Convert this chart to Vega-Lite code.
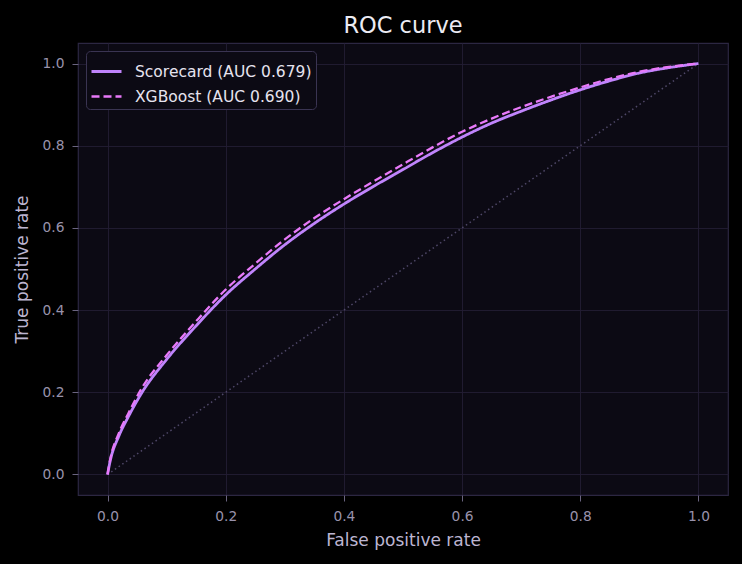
{
  "$schema": "https://vega.github.io/schema/vega-lite/v6.json",
  "width": 650,
  "height": 452,
  "autosize": "none",
  "padding": {"left": 78, "top": 43, "right": 14, "bottom": 69},
  "background": "#000000",
  "title": {"text": "ROC curve", "fontSize": 22.5, "font": "DejaVu Sans", "fontWeight": "normal", "color": "#ecebf3", "offset": 6},
  "config": {
    "view": {"fill": "#0c0a14", "stroke": "#2c2742", "strokeWidth": 1.2},
    "font": "DejaVu Sans",
    "axis": {
      "gridColor": "#221d33", "gridWidth": 0.9,
      "domain": false,
      "tickColor": "#6a6480", "tickSize": 6,
      "labelColor": "#9892ab", "labelFontSize": 13.8, "labelPadding": 8,
      "titleColor": "#bdb6d2", "titleFontSize": 17, "titleFontWeight": "normal"
    }
  },
  "datasets": {
    "roc": [
      {"model": "Scorecard (AUC 0.679)", "fpr": 0, "tpr": 0},
      {"model": "Scorecard (AUC 0.679)", "fpr": 0.005, "tpr": 0.036},
      {"model": "Scorecard (AUC 0.679)", "fpr": 0.019, "tpr": 0.093},
      {"model": "Scorecard (AUC 0.679)", "fpr": 0.035, "tpr": 0.14},
      {"model": "Scorecard (AUC 0.679)", "fpr": 0.0585, "tpr": 0.2},
      {"model": "Scorecard (AUC 0.679)", "fpr": 0.1, "tpr": 0.28},
      {"model": "Scorecard (AUC 0.679)", "fpr": 0.15, "tpr": 0.362},
      {"model": "Scorecard (AUC 0.679)", "fpr": 0.2, "tpr": 0.437},
      {"model": "Scorecard (AUC 0.679)", "fpr": 0.25, "tpr": 0.5},
      {"model": "Scorecard (AUC 0.679)", "fpr": 0.3, "tpr": 0.559},
      {"model": "Scorecard (AUC 0.679)", "fpr": 0.35, "tpr": 0.611},
      {"model": "Scorecard (AUC 0.679)", "fpr": 0.4, "tpr": 0.658},
      {"model": "Scorecard (AUC 0.679)", "fpr": 0.45, "tpr": 0.701},
      {"model": "Scorecard (AUC 0.679)", "fpr": 0.5, "tpr": 0.742},
      {"model": "Scorecard (AUC 0.679)", "fpr": 0.55, "tpr": 0.783},
      {"model": "Scorecard (AUC 0.679)", "fpr": 0.6, "tpr": 0.821},
      {"model": "Scorecard (AUC 0.679)", "fpr": 0.65, "tpr": 0.855},
      {"model": "Scorecard (AUC 0.679)", "fpr": 0.7, "tpr": 0.884},
      {"model": "Scorecard (AUC 0.679)", "fpr": 0.75, "tpr": 0.911},
      {"model": "Scorecard (AUC 0.679)", "fpr": 0.8, "tpr": 0.936},
      {"model": "Scorecard (AUC 0.679)", "fpr": 0.85, "tpr": 0.958},
      {"model": "Scorecard (AUC 0.679)", "fpr": 0.9, "tpr": 0.977},
      {"model": "Scorecard (AUC 0.679)", "fpr": 0.95, "tpr": 0.99},
      {"model": "Scorecard (AUC 0.679)", "fpr": 1, "tpr": 1},
      {"model": "XGBoost (AUC 0.690)", "fpr": 0, "tpr": 0},
      {"model": "XGBoost (AUC 0.690)", "fpr": 0.005, "tpr": 0.04},
      {"model": "XGBoost (AUC 0.690)", "fpr": 0.019, "tpr": 0.1},
      {"model": "XGBoost (AUC 0.690)", "fpr": 0.035, "tpr": 0.148},
      {"model": "XGBoost (AUC 0.690)", "fpr": 0.058, "tpr": 0.21},
      {"model": "XGBoost (AUC 0.690)", "fpr": 0.1, "tpr": 0.29},
      {"model": "XGBoost (AUC 0.690)", "fpr": 0.15, "tpr": 0.373},
      {"model": "XGBoost (AUC 0.690)", "fpr": 0.2, "tpr": 0.45},
      {"model": "XGBoost (AUC 0.690)", "fpr": 0.25, "tpr": 0.513},
      {"model": "XGBoost (AUC 0.690)", "fpr": 0.3, "tpr": 0.572},
      {"model": "XGBoost (AUC 0.690)", "fpr": 0.35, "tpr": 0.624},
      {"model": "XGBoost (AUC 0.690)", "fpr": 0.4, "tpr": 0.670},
      {"model": "XGBoost (AUC 0.690)", "fpr": 0.45, "tpr": 0.713},
      {"model": "XGBoost (AUC 0.690)", "fpr": 0.5, "tpr": 0.755},
      {"model": "XGBoost (AUC 0.690)", "fpr": 0.55, "tpr": 0.796},
      {"model": "XGBoost (AUC 0.690)", "fpr": 0.6, "tpr": 0.834},
      {"model": "XGBoost (AUC 0.690)", "fpr": 0.65, "tpr": 0.866},
      {"model": "XGBoost (AUC 0.690)", "fpr": 0.7, "tpr": 0.894},
      {"model": "XGBoost (AUC 0.690)", "fpr": 0.75, "tpr": 0.919},
      {"model": "XGBoost (AUC 0.690)", "fpr": 0.8, "tpr": 0.942},
      {"model": "XGBoost (AUC 0.690)", "fpr": 0.85, "tpr": 0.963},
      {"model": "XGBoost (AUC 0.690)", "fpr": 0.9, "tpr": 0.98},
      {"model": "XGBoost (AUC 0.690)", "fpr": 0.95, "tpr": 0.992},
      {"model": "XGBoost (AUC 0.690)", "fpr": 1, "tpr": 1}
    ],
    "diag": [
      {"fpr": 0, "tpr": 0},
      {"fpr": 1, "tpr": 1}
    ]
  },
  "layer": [
    {
      "data": {"name": "diag"},
      "mark": {"type": "line", "color": "#4f4868", "strokeWidth": 1.5, "strokeDash": [1.5, 3]},
      "encoding": {
        "x": {"field": "fpr", "type": "quantitative", "scale": {"domain": [-0.05, 1.05], "nice": false, "zero": false},
              "axis": {"title": "False positive rate", "values": [0, 0.2, 0.4, 0.6, 0.8, 1], "format": ".1f", "titlePadding": 10}},
        "y": {"field": "tpr", "type": "quantitative", "scale": {"domain": [-0.05, 1.05], "nice": false, "zero": false},
              "axis": {"title": "True positive rate", "values": [0, 0.2, 0.4, 0.6, 0.8, 1], "format": ".1f", "titlePadding": 11}}
      }
    },
    {
      "data": {"name": "roc"},
      "mark": {"type": "line", "interpolate": "monotone"},
      "encoding": {
        "x": {"field": "fpr", "type": "quantitative"},
        "y": {"field": "tpr", "type": "quantitative"},
        "color": {
          "field": "model", "type": "nominal",
          "scale": {"domain": ["Scorecard (AUC 0.679)", "XGBoost (AUC 0.690)"], "range": ["#c084fc", "#e879f9"]},
          "legend": {
            "title": null, "orient": "top-left", "offset": 8,
            "symbolType": "stroke", "symbolSize": 900, "symbolStrokeWidth": 2.6,
            "labelColor": "#e6e3ef", "labelFontSize": 15.5, "labelFont": "DejaVu Sans", "labelOffset": 12, "labelLimit": 400,
            "fillColor": "#0c0a14", "strokeColor": "#3a3452", "cornerRadius": 4, "padding": 4,
            "rowPadding": 0, "symbolOffset": 0
          }
        },
        "strokeDash": {
          "field": "model", "type": "nominal",
          "scale": {"domain": ["Scorecard (AUC 0.679)", "XGBoost (AUC 0.690)"], "range": [[1, 0], [8, 4]]},
          "legend": null
        },
        "strokeWidth": {
          "field": "model", "type": "nominal",
          "scale": {"domain": ["Scorecard (AUC 0.679)", "XGBoost (AUC 0.690)"], "range": [2.8, 2.3]},
          "legend": null
        }
      }
    }
  ]
}
